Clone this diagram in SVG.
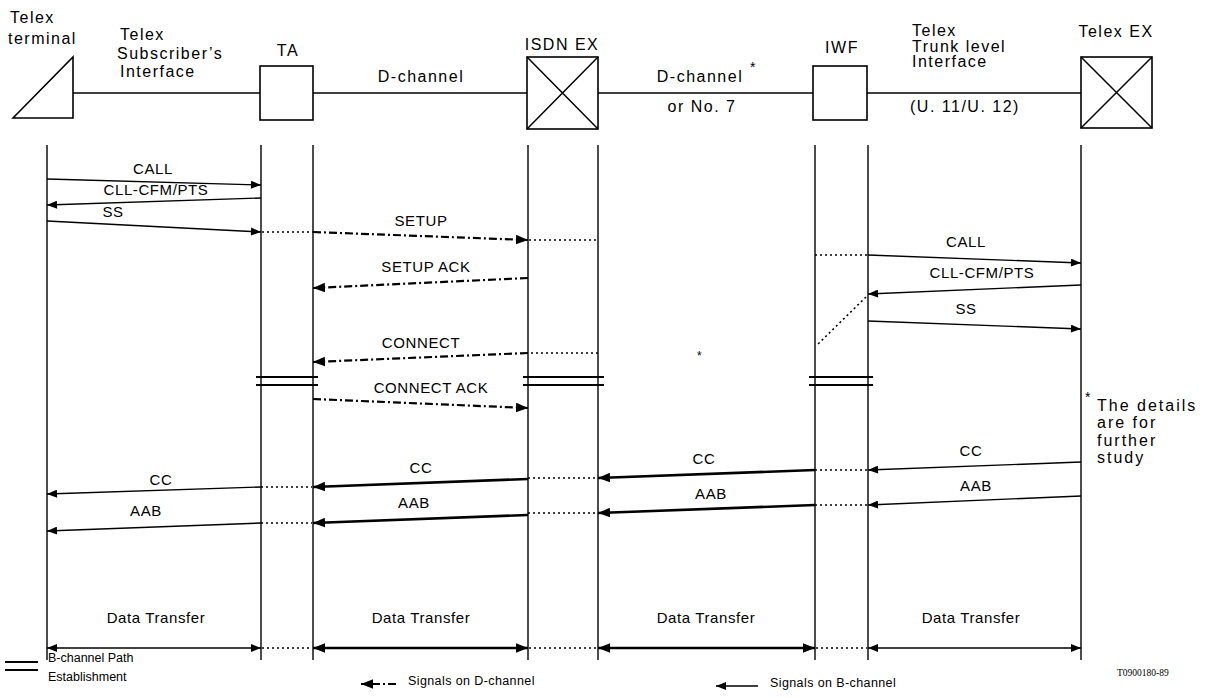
<svg xmlns="http://www.w3.org/2000/svg" width="1215" height="698" viewBox="0 0 1215 698">
<defs>
<style>
text{font-family:"Liberation Sans",Arial,sans-serif;font-size:15px;letter-spacing:0.6px;fill:#000}
.h{font-size:16px;letter-spacing:1.5px}
.fn{font-size:16px;letter-spacing:2px}
.m{text-anchor:middle}
.box{fill:#fff;stroke:#000;stroke-width:1.6}
.ln{fill:none;stroke:#000;stroke-width:1.5}
.life{fill:none;stroke:#000;stroke-width:1.4}
.thin{fill:none;stroke:#000;stroke-width:1.4;marker-end:url(#ah)}
.thick{fill:none;stroke:#000;stroke-width:2.6;marker-end:url(#ahb)}
.dd{fill:none;stroke:#000;stroke-width:2.2;stroke-dasharray:8 3 2 3;marker-end:url(#ahb)}
.dot{fill:none;stroke:#000;stroke-width:1.6;stroke-dasharray:2 3}
.dbl{fill:none;stroke:#000;stroke-width:1.8}
.sm{font-size:12.5px;letter-spacing:0.4px}
</style>
<marker id="ah" viewBox="0 0 10 8" refX="10" refY="4" markerWidth="11" markerHeight="8" markerUnits="userSpaceOnUse" orient="auto-start-reverse"><path d="M0,0 L10,4 L0,8 z" fill="#000"/></marker>
<marker id="ahb" viewBox="0 0 10 8" refX="10" refY="4" markerWidth="12" markerHeight="10" markerUnits="userSpaceOnUse" orient="auto-start-reverse"><path d="M0,0 L10,4 L0,8 z" fill="#000"/></marker>
</defs>
<rect width="1215" height="698" fill="#fff"/>

<g id="telex-terminal">
<text class="h" x="10" y="23">Telex</text>
<text class="h" x="8" y="44">terminal</text>
<path class="box" d="M13,118 L73,57 L73,118 Z"/>
<line class="life" x1="47" y1="145" x2="47" y2="660"/>
</g>

<g id="ta">
<text class="h m" x="288" y="56">TA</text>
<rect class="box" x="260" y="66" width="53" height="54"/>
<line class="life" x1="261" y1="145" x2="261" y2="660"/>
<line class="life" x1="313" y1="145" x2="313" y2="660"/>
</g>

<g id="isdn-ex">
<text class="h m" x="562" y="50">ISDN EX</text>
<rect class="box" x="527" y="57" width="71" height="72"/>
<path class="ln" d="M527,57 L598,129 M598,57 L527,129"/>
<line class="life" x1="528" y1="145" x2="528" y2="660"/>
<line class="life" x1="598" y1="145" x2="598" y2="660"/>
</g>

<g id="iwf">
<text class="h m" x="842" y="53">IWF</text>
<rect class="box" x="813" y="66" width="54" height="54"/>
<line class="life" x1="815" y1="145" x2="815" y2="660"/>
<line class="life" x1="868" y1="145" x2="868" y2="660"/>
</g>

<g id="telex-ex">
<text class="h m" x="1116" y="37">Telex EX</text>
<rect class="box" x="1081" y="57" width="71" height="71"/>
<path class="ln" d="M1081,57 L1152,128 M1152,57 L1081,128"/>
<line class="life" x1="1081" y1="145" x2="1081" y2="660"/>
</g>

<g id="interfaces">
<line class="ln" x1="73" y1="93" x2="260" y2="93"/>
<text class="h" x="120" y="40">Telex</text>
<text class="h" x="117" y="59">Subscriber’s</text>
<text class="h" x="120" y="77">Interface</text>
<line class="ln" x1="313" y1="93" x2="527" y2="93"/>
<text class="h m" x="421" y="82">D-channel</text>
<line class="ln" x1="598" y1="93" x2="813" y2="93"/>
<text class="h m" x="700" y="82">D-channel</text>
<text x="750" y="72" style="font-size:14px">*</text>
<text class="h m" x="702" y="112">or No. 7</text>
<line class="ln" x1="867" y1="93" x2="1081" y2="93"/>
<text class="h" x="912" y="36">Telex</text>
<text class="h" x="912" y="52">Trunk level</text>
<text class="h" x="912" y="67">Interface</text>
<text class="h" x="910" y="112">(U. 11/U. 12)</text>
</g>

<g id="connectors">
<line class="thin" x1="47" y1="179" x2="261" y2="185"/>
<line class="thin" x1="261" y1="198" x2="47" y2="205"/>
<line class="thin" x1="47" y1="221" x2="261" y2="232"/>
<line class="dot" x1="262" y1="232" x2="313" y2="232"/>
<line class="dd" x1="313" y1="232" x2="528" y2="240"/>
<line class="dot" x1="529" y1="240" x2="598" y2="240"/>
<line class="dd" x1="528" y1="278" x2="313" y2="288"/>
<line class="dot" x1="815" y1="255" x2="867" y2="255"/>
<line class="thin" x1="868" y1="255" x2="1081" y2="263"/>
<line class="thin" x1="1081" y1="285" x2="868" y2="294"/>
<line class="thin" x1="868" y1="321" x2="1081" y2="329"/>
<line class="dot" x1="866" y1="297" x2="816" y2="346"/>
<line class="dot" x1="598" y1="353" x2="529" y2="353"/>
<line class="dd" x1="528" y1="353" x2="313" y2="362"/>
<path class="dbl" d="M256,377 H318 M256,385 H318 M523,377 H604 M523,385 H604 M809,377 H873 M809,385 H873"/>
<line class="dd" x1="313" y1="399" x2="528" y2="408"/>
<line class="thin" x1="1081" y1="462" x2="868" y2="470"/>
<line class="dot" x1="815" y1="470" x2="867" y2="470"/>
<line class="thick" x1="815" y1="470" x2="598" y2="478"/>
<line class="dot" x1="528" y1="478" x2="597" y2="478"/>
<line class="thick" x1="528" y1="479" x2="313" y2="487"/>
<line class="dot" x1="261" y1="487" x2="312" y2="487"/>
<line class="thin" x1="261" y1="487" x2="47" y2="494"/>
<line class="thin" x1="1081" y1="496" x2="868" y2="505"/>
<line class="dot" x1="815" y1="505" x2="867" y2="505"/>
<line class="thick" x1="815" y1="505" x2="598" y2="513"/>
<line class="dot" x1="528" y1="513" x2="597" y2="513"/>
<line class="thick" x1="528" y1="515" x2="313" y2="523"/>
<line class="dot" x1="261" y1="523" x2="312" y2="523"/>
<line class="thin" x1="261" y1="523" x2="47" y2="531"/>
<line class="thin" style="marker-start:url(#ah)" x1="47" y1="648" x2="261" y2="648"/>
<line class="dot" x1="262" y1="648" x2="312" y2="648"/>
<line class="thick" style="marker-start:url(#ahb)" x1="313" y1="648" x2="528" y2="648"/>
<line class="dot" x1="529" y1="648" x2="597" y2="648"/>
<line class="thick" style="marker-start:url(#ahb)" x1="598" y1="648" x2="815" y2="648"/>
<line class="dot" x1="816" y1="648" x2="867" y2="648"/>
<line class="thin" style="marker-start:url(#ah)" x1="868" y1="648" x2="1081" y2="648"/>
</g>

<g id="labels">
<text class="m" x="153" y="174">CALL</text>
<text class="m" x="156" y="195">CLL-CFM/PTS</text>
<text class="m" x="113" y="217">SS</text>
<text class="m" x="421" y="226">SETUP</text>
<text class="m" x="426" y="272">SETUP ACK</text>
<text class="m" x="966" y="247">CALL</text>
<text class="m" x="982" y="278">CLL-CFM/PTS</text>
<text class="m" x="966" y="314">SS</text>
<text x="697" y="360" style="font-size:12px">*</text>
<text class="m" x="421" y="348">CONNECT</text>
<text class="m" x="431" y="393">CONNECT ACK</text>
<text x="1085" y="402" style="font-size:14px">*</text>
<text class="fn" x="1097" y="411">The details</text>
<text class="fn" x="1097" y="428">are for</text>
<text class="fn" x="1097" y="446">further</text>
<text class="fn" x="1097" y="463">study</text>
<text class="m" x="971" y="456">CC</text>
<text class="m" x="704" y="464">CC</text>
<text class="m" x="421" y="473">CC</text>
<text class="m" x="161" y="485">CC</text>
<text class="m" x="976" y="491">AAB</text>
<text class="m" x="711" y="499">AAB</text>
<text class="m" x="414" y="508">AAB</text>
<text class="m" x="146" y="516">AAB</text>
<text class="m" x="156" y="623">Data Transfer</text>
<text class="m" x="421" y="623">Data Transfer</text>
<text class="m" x="706" y="623">Data Transfer</text>
<text class="m" x="971" y="623">Data Transfer</text>
<text x="1117" y="676" style="font-family:'Liberation Serif',serif;font-size:9.5px;letter-spacing:0">T0900180-89</text>
</g>

<g id="legend">
<path class="dbl" d="M5,662 H38 M5,670 H38"/>
<text class="sm" x="48" y="662" style="letter-spacing:0">B-channel Path</text>
<text class="sm" x="48" y="681" style="letter-spacing:0">Establishment</text>
<line class="dd" style="stroke-width:1.8" x1="396" y1="684" x2="361" y2="684"/>
<text class="sm" x="408" y="685">Signals on D-channel</text>
<line class="thin" x1="758" y1="686" x2="716" y2="686"/>
<text class="sm" x="770" y="687">Signals on B-channel</text>
</g>
</svg>
